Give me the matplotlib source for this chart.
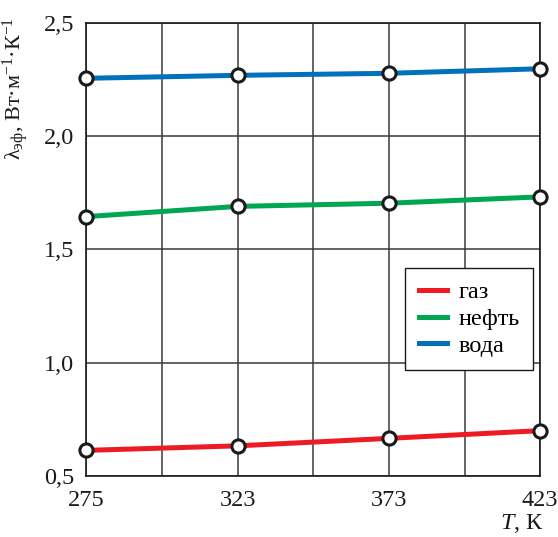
import numpy as np
import matplotlib.pyplot as plt

plt.rcParams['font.family'] = ['Liberation Serif', 'DejaVu Serif']
plt.rcParams['mathtext.fontset'] = 'custom'
plt.rcParams['mathtext.rm'] = 'Liberation Serif'
plt.rcParams['mathtext.it'] = 'Liberation Serif:italic'

# data
temps = ["275", "323", "373", "423"]
gas = [0.613, 0.633, 0.666, 0.700]
oil = [1.644, 1.689, 1.703, 1.731]
water = [2.254, 2.267, 2.276, 2.296]

series = [("газ", gas, "#ED1C24"),
          ("нефть", oil, "#00A651"),
          ("вода", water, "#0072BC")]

fs = 17.5
ink = '#1a1a1a'

fig = plt.figure(figsize=(5.58, 5.37), dpi=100)
ax = fig.add_axes([0.155, 0.1136, 0.813, 0.8445])

x = np.arange(len(temps))
for name, vals, col in series:
    ax.plot(x, vals, color=col, lw=3.6, label=name, zorder=3)
    ax.plot(x, vals, ls='none', marker='o', ms=9.5, mfc='white', mec=ink,
            mew=2.2, zorder=4, clip_on=False)

ax.set_xlim(0, 3)
ax.set_ylim(0.5, 2.5)
ax.set_xticks(x)
ax.set_xticklabels(temps)
ax.set_xticks([0.5, 1.5, 2.5], minor=True)
ax.set_yticks([0.5, 1.0, 1.5, 2.0, 2.5])
ax.set_yticklabels(["0,5", "1,0", "1,5", "2,0", "2,5"])
ax.grid(True, which='both', axis='x', color='#3a3a3a', lw=1.1)
ax.grid(True, which='major', axis='y', color='#3a3a3a', lw=1.1)
ax.tick_params(which='both', length=0, labelsize=fs, colors=ink)
ax.tick_params(axis='x', pad=10)
ax.tick_params(axis='y', pad=9)
for s in ax.spines.values():
    s.set_color(ink)
    s.set_linewidth(1.2)

ax.set_ylabel('λ$_{\\mathrm{эф}}$, Вт·м$^{-1}$·К$^{-1}$', fontsize=16, color=ink)
ax.yaxis.set_label_coords(-0.122, 0.855)
fig.text(0.975, 0.004, r'$T$, К', fontsize=fs, ha='right', va='bottom', color=ink)

leg = ax.legend(loc='upper right', bbox_to_anchor=(0.985, 0.459), borderaxespad=0,
                fontsize=fs, fancybox=False, framealpha=1, edgecolor=ink,
                handlelength=1.15, handletextpad=0.5, borderpad=0.55,
                labelspacing=0.2)
leg.get_frame().set_linewidth(1.0)

fig.savefig("out.png", dpi=100)
